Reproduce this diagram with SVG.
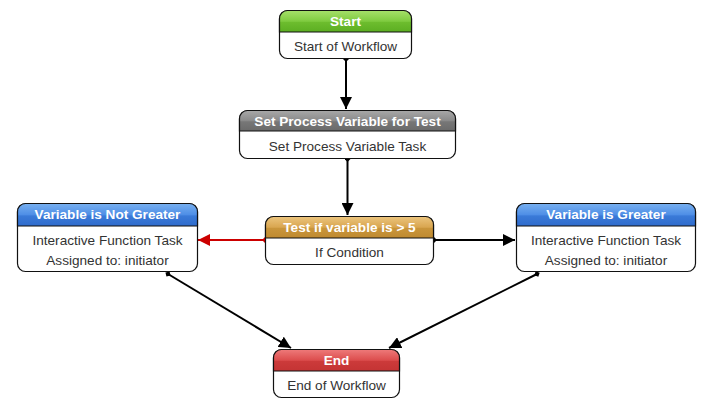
<svg xmlns="http://www.w3.org/2000/svg" width="720" height="415" viewBox="0 0 720 415">
<style>
.box{fill:#fff;stroke:#111;stroke-width:1.2}
.ht{font-family:"Liberation Sans",Arial,sans-serif;font-size:13.6px;font-weight:bold;fill:#fff;text-anchor:middle}
.bt{font-family:"Liberation Sans",Arial,sans-serif;font-size:13.6px;fill:#333;text-anchor:middle}
.c{stroke:#000;stroke-width:2;fill:none;marker-start:url(#dot);marker-end:url(#arr)}
.cr{stroke:#cc0000;stroke-width:2;fill:none;marker-start:url(#dotr);marker-end:url(#arrr)}
</style>
<defs>
<linearGradient id="gG" x1="0" y1="0" x2="0" y2="1"><stop offset="0" stop-color="#a6e06a"/><stop offset="0.5" stop-color="#7fcb40"/><stop offset="0.55" stop-color="#6dbd2e"/><stop offset="1" stop-color="#5cae22"/></linearGradient>
<linearGradient id="gK" x1="0" y1="0" x2="0" y2="1"><stop offset="0" stop-color="#a8a8a8"/><stop offset="0.5" stop-color="#8a8a8a"/><stop offset="0.55" stop-color="#777"/><stop offset="1" stop-color="#6a6a6a"/></linearGradient>
<linearGradient id="gB" x1="0" y1="0" x2="0" y2="1"><stop offset="0" stop-color="#78b0f0"/><stop offset="0.5" stop-color="#4e8ee6"/><stop offset="0.55" stop-color="#3a7ad8"/><stop offset="1" stop-color="#2f6bcc"/></linearGradient>
<linearGradient id="gO" x1="0" y1="0" x2="0" y2="1"><stop offset="0" stop-color="#ecc57e"/><stop offset="0.5" stop-color="#d9a650"/><stop offset="0.55" stop-color="#c9953b"/><stop offset="1" stop-color="#bf8a30"/></linearGradient>
<linearGradient id="gR" x1="0" y1="0" x2="0" y2="1"><stop offset="0" stop-color="#ee7a7a"/><stop offset="0.5" stop-color="#dc4d4d"/><stop offset="0.55" stop-color="#cc3a3a"/><stop offset="1" stop-color="#c43434"/></linearGradient>
<marker id="arr" viewBox="0 0 10 10" refX="10" refY="5" markerWidth="6" markerHeight="6" orient="auto" markerUnits="strokeWidth"><path d="M0,0 L10,5 L0,10 Z" fill="#000"/></marker>
<marker id="arrr" viewBox="0 0 10 10" refX="10" refY="5" markerWidth="6" markerHeight="6" orient="auto" markerUnits="strokeWidth"><path d="M0,0 L10,5 L0,10 Z" fill="#cc0000"/></marker>
<marker id="dot" viewBox="0 0 10 10" refX="5" refY="5" markerWidth="3" markerHeight="3" orient="auto" markerUnits="strokeWidth"><path d="M0,5 L5,0 L10,5 L5,10 Z" fill="#000"/></marker>
<marker id="dotr" viewBox="0 0 10 10" refX="5" refY="5" markerWidth="3" markerHeight="3" orient="auto" markerUnits="strokeWidth"><path d="M0,5 L5,0 L10,5 L5,10 Z" fill="#cc0000"/></marker>
</defs>
<rect width="720" height="415" fill="#fff"/>

<g id="connectors">
<line class="c" x1="346" y1="59" x2="346" y2="109"/>
<line class="c" x1="347.5" y1="159" x2="347.5" y2="215"/>
<line class="cr" x1="265" y1="240" x2="198" y2="240"/>
<line class="c" x1="434" y1="240" x2="515" y2="240"/>
<line class="c" x1="168" y1="274" x2="291" y2="348"/>
<line class="c" x1="537" y1="274" x2="389" y2="348"/>
</g>

<g id="start">
<rect class="box" x="279.5" y="10.5" width="132" height="48" rx="8"/>
<path d="M279.5,32 V18.5 A8,8 0 0 1 287.5,10.5 H403.5 A8,8 0 0 1 411.5,18.5 V32 Z" fill="url(#gG)" stroke="#111" stroke-width="1.2"/>
<text class="ht" x="345.5" y="26">Start</text>
<text class="bt" x="345.5" y="50.5">Start of Workflow</text>
</g>

<g id="setvar">
<rect class="box" x="239.5" y="110.5" width="216" height="48" rx="8"/>
<path d="M239.5,131 V118.5 A8,8 0 0 1 247.5,110.5 H447.5 A8,8 0 0 1 455.5,118.5 V131 Z" fill="url(#gK)" stroke="#111" stroke-width="1.2"/>
<text class="ht" x="347.5" y="125.5">Set Process Variable for Test</text>
<text class="bt" x="347.5" y="150.5">Set Process Variable Task</text>
</g>

<g id="test">
<rect class="box" x="265.5" y="216.5" width="168" height="48" rx="8"/>
<path d="M265.5,238 V224.5 A8,8 0 0 1 273.5,216.5 H425.5 A8,8 0 0 1 433.5,224.5 V238 Z" fill="url(#gO)" stroke="#111" stroke-width="1.2"/>
<text class="ht" x="349.5" y="232">Test if variable is &gt; 5</text>
<text class="bt" x="349.5" y="256.5">If Condition</text>
</g>

<g id="notgreater">
<rect class="box" x="17.5" y="203.5" width="180" height="68" rx="8"/>
<path d="M17.5,226 V211.5 A8,8 0 0 1 25.5,203.5 H189.5 A8,8 0 0 1 197.5,211.5 V226 Z" fill="url(#gB)" stroke="#111" stroke-width="1.2"/>
<text class="ht" x="107.5" y="219">Variable is Not Greater</text>
<text class="bt" x="107.5" y="244.5">Interactive Function Task</text>
<text class="bt" x="107.5" y="264.5">Assigned to: initiator</text>
</g>

<g id="greater">
<rect class="box" x="516.5" y="203.5" width="179" height="68" rx="8"/>
<path d="M516.5,226 V211.5 A8,8 0 0 1 524.5,203.5 H687.5 A8,8 0 0 1 695.5,211.5 V226 Z" fill="url(#gB)" stroke="#111" stroke-width="1.2"/>
<text class="ht" x="606" y="219">Variable is Greater</text>
<text class="bt" x="606" y="244.5">Interactive Function Task</text>
<text class="bt" x="606" y="264.5">Assigned to: initiator</text>
</g>

<g id="end">
<rect class="box" x="273.5" y="349.5" width="126" height="48" rx="8"/>
<path d="M273.5,371 V357.5 A8,8 0 0 1 281.5,349.5 H391.5 A8,8 0 0 1 399.5,357.5 V371 Z" fill="url(#gR)" stroke="#111" stroke-width="1.2"/>
<text class="ht" x="336.5" y="365">End</text>
<text class="bt" x="336.5" y="389.5">End of Workflow</text>
</g>
</svg>
